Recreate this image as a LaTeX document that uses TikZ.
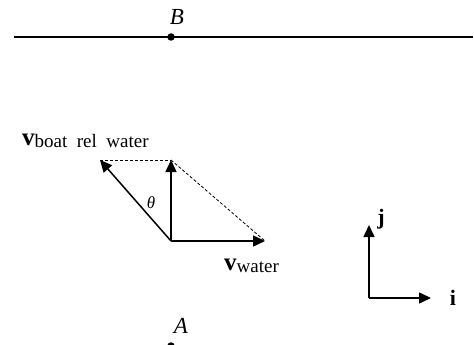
\documentclass[tikz,border=0pt]{standalone}
\usepackage{fontspec}
\setmainfont{Liberation Serif}
\usetikzlibrary{arrows.meta}
\tikzset{
  vec/.style={line width=1.5pt, -{Triangle[length=12pt,width=11pt]}},
  helper/.style={line width=0.8pt, dash pattern=on 3pt off 2pt},
  lbl/.style={inner sep=0pt, font=\fontsize{23}{23}\selectfont\itshape},
  dotpt/.style={circle, fill=black, inner sep=0pt, minimum size=7.5pt}
}
\begin{document}
\begin{tikzpicture}[x=1pt,y=-1pt]
\useasboundingbox (0,0) rectangle (474,345);
% river bank line
\coordinate (L) at (14,37);
\coordinate (R) at (473,37);
\draw[line width=1.3pt] (L) -- (R);
\node[dotpt] (Bd) at (171,37) {};
\node[lbl] (B) at (177,17) {B};
% vectors
\coordinate (O) at (171,241);
\coordinate (T) at (171,160);
\coordinate (W) at (265,241);
\coordinate (D) at (100,160);
\draw[helper] (D) -- (T);
\draw[helper] (T) -- (W);
\draw[vec] (O) -- (T);
\draw[vec] (O) -- (W);
\draw[vec] (O) -- (D);
\node[inner sep=0pt, font=\fontsize{17}{17}\selectfont\itshape] (th) at (151,203) {θ};
\node[anchor=base west, inner sep=0pt] (vb) at (22,145) {\fontsize{25}{25}\selectfont\bfseries v\fontsize{19}{19}\mdseries\selectfont\raisebox{-2pt}{boat\ \ rel\ \ water}};
\node[anchor=base west, inner sep=0pt] (vw) at (224,270) {\fontsize{25}{25}\selectfont\bfseries v\fontsize{19}{19}\mdseries\selectfont\raisebox{-2pt}{water}};
% axes
\coordinate (Ax) at (369,298);
\coordinate (Ay) at (369,225);
\coordinate (Ai) at (431,298);
\draw[vec] (Ax) -- (Ay);
\draw[vec] (Ax) -- (Ai);
\node[anchor=base, inner sep=0pt, font=\fontsize{22}{22}\selectfont\bfseries] (j) at (381,224) {j};
\node[anchor=base, inner sep=0pt, font=\fontsize{22}{22}\selectfont\bfseries] (i) at (453,305) {i};
% A
\node[lbl] (A) at (181,326) {A};
\node[dotpt] (Ad) at (171,346) {};
\end{tikzpicture}
\end{document}
